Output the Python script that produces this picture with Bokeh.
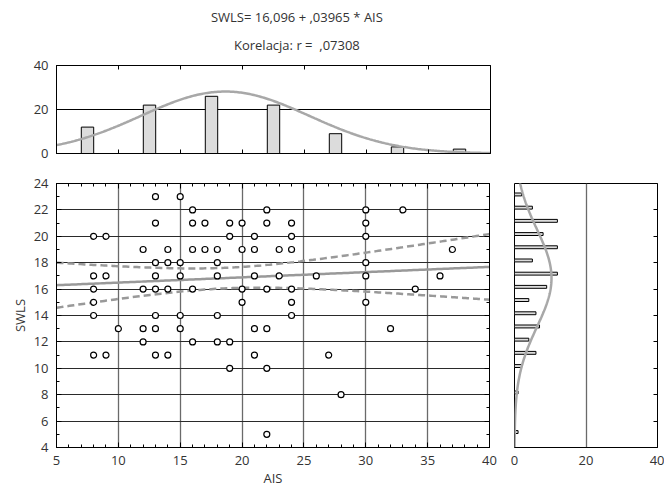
import numpy as np
from bokeh.plotting import figure
from bokeh.layouts import column, row
from bokeh.models import (SingleIntervalTicker, FixedTicker, Range1d, LinearAxis,
                          CustomJSTickFormatter)
from bokeh.core.properties import value
from bokeh.embed import file_html
from bokeh.resources import INLINE

# ---------------- data ----------------
ais = [13, 15,
       16, 22, 30, 33,
       13, 16, 17, 19, 20, 22, 24, 30,
       8, 9, 19, 21, 24, 30,
       12, 14, 16, 17, 18, 20, 21, 23, 24, 37,
       13, 14, 15, 18, 30,
       8, 9, 13, 15, 18, 21, 23, 26, 30, 36,
       8, 12, 13, 14, 16, 20, 22, 24, 34,
       8, 20, 24, 30,
       8, 13, 15, 18, 24,
       10, 12, 13, 15, 21, 22, 32,
       12, 16, 18, 19,
       8, 9, 13, 14, 21, 27,
       19, 22,
       28,
       22]
swls = [23, 23,
        22, 22, 22, 22,
        21, 21, 21, 21, 21, 21, 21, 21,
        20, 20, 20, 20, 20, 20,
        19, 19, 19, 19, 19, 19, 19, 19, 19, 19,
        18, 18, 18, 18, 18,
        17, 17, 17, 17, 17, 17, 17, 17, 17, 17,
        16, 16, 16, 16, 16, 16, 16, 16, 16,
        15, 15, 15, 15,
        14, 14, 14, 14, 14,
        13, 13, 13, 13, 13, 13, 13,
        12, 12, 12, 12,
        11, 11, 11, 11, 11, 11,
        10, 10,
        8,
        5]

ais_bins = [7.5, 12.5, 17.5, 22.5, 27.5, 32.5, 37.5]
ais_counts = [12, 22, 26, 22, 9, 3, 2]
ais_bin_width = 5

swls_bins = [23, 22, 21, 20, 19, 18, 17, 16, 15, 14, 13, 12, 11, 10, 8, 5]
swls_counts = [2, 5, 12, 8, 12, 5, 12, 9, 4, 6, 7, 4, 6, 2, 1, 1]
swls_bin_width = 1

intercept, slope = 16.096, 0.03965
title_lines = ["SWLS= 16,096 + ,03965 * AIS", "Korelacja: r =\u00a0 ,07308"]
x_label = "AIS"
y_label = "SWLS"

n_obs = 96
ais_mean, ais_sd = 18.6, 6.8
swls_mean, swls_sd = 16.83, 3.7
band_center, band_hw0, band_k = 18.7, 0.78, 0.111

# ---------------- style ----------------
FONT = "Open Sans"
TXT = "#333333"
CURVE = "#a8a8a8"
BAR_FILL = "#dcdcdc"

xr = Range1d(5, 40)
yr = Range1d(4, 24)
BLANK = CustomJSTickFormatter(code="return ''")


def style_axis(ax, labels=True, tick_in=5, minor_in=3, standoff=8):
    ax.axis_line_color = "black"
    ax.major_tick_line_color = "black"
    ax.minor_tick_line_color = "black"
    ax.major_tick_in = tick_in
    ax.major_tick_out = 0
    ax.minor_tick_in = minor_in
    ax.minor_tick_out = 0
    if labels:
        ax.major_label_text_font = FONT
        ax.major_label_text_font_size = "13px"
        ax.major_label_text_color = TXT
        ax.major_label_standoff = standoff
    else:
        ax.formatter = BLANK
        ax.major_label_standoff = 0


def base_fig(**kw):
    p = figure(output_backend="svg", toolbar_location=None, **kw)
    p.outline_line_color = "black"
    p.outline_line_width = 1
    p.background_fill_color = "white"
    p.border_fill_color = "white"
    return p


# ---------------- title strip (pixel-like coordinates, y up) ----------------
T = figure(output_backend="svg", toolbar_location=None, width=492, height=55,
           min_border=0, x_range=Range1d(0, 492), y_range=Range1d(0, 55),
           x_axis_location=None, y_axis_location=None)
T.outline_line_color = None
T.grid.visible = False
T.text(x=[272.5, 272.5], y=[39, 11], text=title_lines, text_font=value(FONT),
       text_font_size=value("13px"), text_align="center", text_baseline="middle",
       text_color=TXT)

# ---------------- top histogram (AIS) ----------------
A = base_fig(frame_width=434, frame_height=88, min_border_left=56, min_border_right=2,
             min_border_top=10, min_border_bottom=10, x_range=xr, y_range=Range1d(0, 40))
A.xaxis.ticker = SingleIntervalTicker(interval=5, num_minor_ticks=0)
style_axis(A.xaxis[0], labels=False, tick_in=4, minor_in=0)
A.yaxis.ticker = FixedTicker(ticks=[0, 20, 40])
style_axis(A.yaxis[0], labels=True, tick_in=0, minor_in=0)
A.xgrid.visible = False
A.ygrid.ticker = FixedTicker(ticks=[20])
A.ygrid.grid_line_color = "black"
A.ygrid.grid_line_width = 1
atop = LinearAxis(ticker=SingleIntervalTicker(interval=5, num_minor_ticks=0))
style_axis(atop, labels=False, tick_in=4, minor_in=0)
A.add_layout(atop, "above")

A.vbar(x=ais_bins, top=ais_counts, width=1.0, bottom=0,
       fill_color=BAR_FILL, line_color="black", line_width=1)
xa = np.linspace(5, 40, 300)
ya = n_obs * ais_bin_width * np.exp(-0.5 * ((xa - ais_mean) / ais_sd) ** 2) / (ais_sd * np.sqrt(2 * np.pi))
A.line(xa, ya, line_color=CURVE, line_width=2.5)

# ---------------- scatter ----------------
B = base_fig(frame_width=433, frame_height=264, min_border_left=56, min_border_right=10,
             min_border_top=20, min_border_bottom=43, x_range=xr, y_range=yr)
B.xaxis.ticker = SingleIntervalTicker(interval=5, num_minor_ticks=5)
B.yaxis.ticker = SingleIntervalTicker(interval=2, num_minor_ticks=2)
style_axis(B.xaxis[0], standoff=8)
style_axis(B.yaxis[0])
for ax, lab, so in ((B.xaxis[0], x_label, 1), (B.yaxis[0], y_label, 2)):
    ax.axis_label = lab
    ax.axis_label_text_font = FONT
    ax.axis_label_text_font_size = "13px"
    ax.axis_label_text_font_style = "normal"
    ax.axis_label_text_color = TXT
    ax.axis_label_standoff = so
B.xgrid.ticker = SingleIntervalTicker(interval=5)
B.ygrid.ticker = SingleIntervalTicker(interval=2)
B.xgrid.grid_line_color = "#6a6a6a"
B.xgrid.grid_line_width = 1.3
B.ygrid.grid_line_color = "#2a2a2a"
B.ygrid.grid_line_width = 1
btop = LinearAxis(ticker=SingleIntervalTicker(interval=5, num_minor_ticks=5))
style_axis(btop, labels=False)
B.add_layout(btop, "above")
bright = LinearAxis(ticker=SingleIntervalTicker(interval=2, num_minor_ticks=2))
style_axis(bright, labels=False)
B.add_layout(bright, "right")

xs = np.linspace(5, 40, 200)
reg = intercept + slope * xs
hw = np.sqrt(band_hw0 ** 2 + (band_k * (xs - band_center)) ** 2)
B.line(xs, reg, line_color="#999999", line_width=2.5)
B.line(xs, reg + hw, line_color="#999999", line_width=2.5, line_dash="7 4")
B.line(xs, reg - hw, line_color="#999999", line_width=2.5, line_dash="7 4")
B.scatter(ais, swls, size=6, marker="circle", fill_color="white", line_color="black", line_width=1.2)

# ---------------- right histogram (SWLS) ----------------
C = base_fig(frame_width=143, frame_height=264, min_border_left=15, min_border_right=7,
             min_border_top=20, min_border_bottom=43, x_range=Range1d(0, 40), y_range=yr,
             y_axis_location="right")
C.xaxis.ticker = FixedTicker(ticks=[0, 20, 40])
style_axis(C.xaxis[0], labels=True, tick_in=0, minor_in=0, standoff=8)
C.yaxis.ticker = FixedTicker(ticks=[6, 8, 10, 12, 14, 16, 18, 20, 22])
style_axis(C.yaxis[0], labels=False, tick_in=4, minor_in=0)
C.ygrid.visible = False
C.xgrid.ticker = FixedTicker(ticks=[20])
C.xgrid.grid_line_color = "#6a6a6a"
C.xgrid.grid_line_width = 1.3

C.hbar(y=[v + 0.17 for v in swls_bins], left=0, right=swls_counts, height=0.22,
       fill_color=BAR_FILL, line_color="black", line_width=1)
ys = np.linspace(3, 25, 300)
xc = n_obs * swls_bin_width * np.exp(-0.5 * ((ys - swls_mean) / swls_sd) ** 2) / (swls_sd * np.sqrt(2 * np.pi))
C.line(xc, ys, line_color=CURVE, line_width=2.5)

layout = column(T, A, row(B, C, spacing=0), spacing=0)
open("out.html", "w").write(file_html(layout, INLINE))
